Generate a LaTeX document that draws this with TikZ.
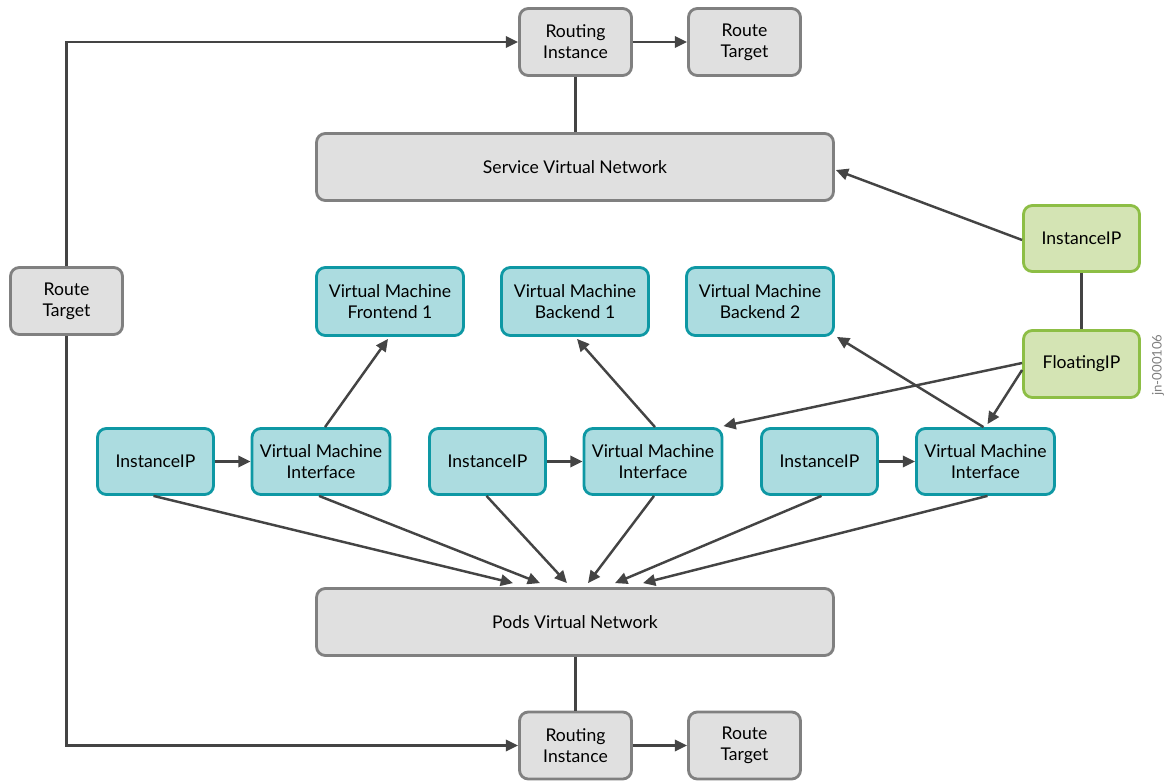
\documentclass[tikz,border=0pt]{standalone}
\usepackage{fontspec}
\setmainfont{Lato}
\usetikzlibrary{arrows.meta,calc}
\definecolor{grayF}{RGB}{224,224,224}
\definecolor{grayB}{RGB}{128,128,128}
\definecolor{tealF}{RGB}{172,220,224}
\definecolor{tealB}{RGB}{14,152,164}
\definecolor{greenF}{RGB}{212,228,180}
\definecolor{greenB}{RGB}{141,190,69}
\definecolor{lineC}{RGB}{68,68,68}
\begin{document}
\begin{tikzpicture}[x=0.02cm,y=-0.02cm,
  box/.style={rounded corners=5pt, line width=1.6pt, align=center, inner sep=0pt,
    font=\fontsize{10}{12}\selectfont},
  gbox/.style={box, draw=grayB, fill=grayF},
  tbox/.style={box, draw=tealB, fill=tealF},
  lbox/.style={box, draw=greenB, fill=greenF},
  small/.style={minimum width=2.24cm, minimum height=1.34cm},
  wide/.style={minimum width=10.34cm, minimum height=1.34cm},
  vm/.style={minimum width=2.94cm, minimum height=1.36cm},
  ip/.style={minimum width=2.32cm, minimum height=1.32cm},
  vmi/.style={minimum width=2.76cm, minimum height=1.32cm},
  ln/.style={draw=lineC, line width=1.4pt},
  arr/.style={ln, -{Triangle[length=7pt,width=6.5pt]}}]
\useasboundingbox (0,0) rectangle (1174,781);

% gray nodes
\node[gbox,small] (ri1) at (575.5,42) {Routing\\Instance};
\node[gbox,small] (rt1) at (744.5,42) {Route\\Target};
\node[gbox,wide] (svn) at (575,167) {Service Virtual Network};
\node[gbox,small] (rtl) at (66.5,301) {Route\\Target};
\node[gbox,wide] (pvn) at (575,622) {Pods Virtual Network};
\node[gbox,small] (ri2) at (575.5,745.5) {Routing\\Instance};
\node[gbox,small] (rt2) at (744.5,745.5) {Route\\Target};

% green nodes
\node[lbox,ip] (gip) at (1081.5,238.5) {InstanceIP};
\node[lbox,ip,minimum height=1.34cm] (fip) at (1081.5,364) {FloatingIP};

% VMs
\node[tbox,vm] (vmf1) at (390,301.5) {Virtual Machine\\Frontend 1};
\node[tbox,vm] (vmb1) at (575,301.5) {Virtual Machine\\Backend 1};
\node[tbox,vm] (vmb2) at (760,301.5) {Virtual Machine\\Backend 2};

% interfaces row
\node[tbox,ip] (ip1) at (155.5,461.5) {InstanceIP};
\node[tbox,vmi] (vmi1) at (321,461.5) {Virtual Machine\\Interface};
\node[tbox,ip] (ip2) at (487.5,461.5) {InstanceIP};
\node[tbox,vmi] (vmi2) at (653,461.5) {Virtual Machine\\Interface};
\node[tbox,ip] (ip3) at (819.5,461.5) {InstanceIP};
\node[tbox,vmi] (vmi3) at (985.5,461.5) {Virtual Machine\\Interface};

\node[rotate=90, text=grayB, font=\fontsize{7.5}{9}\selectfont, inner sep=0pt] (jn) at (1158,365) {jn-000106};

% route target loops
\coordinate (c1) at (66.5,42);
\coordinate (c2) at (66.5,745.5);
\draw[arr] (rtl.north) -- (c1) -- (ri1.west);
\draw[arr] (rtl.south) -- (c2) -- (ri2.west);
\draw[arr] (ri1.east) -- (rt1.west);
\draw[arr] (ri2.east) -- (rt2.west);
\draw[ln] (ri1.south) -- (svn.north -| ri1.south);
\draw[ln] (pvn.south -| ri2.north) -- (ri2.north);

% green links
\draw[arr] ($(gip.west)+(0,1.5)$) -- ($(svn.east)+(1,3)$);
\draw[ln] (gip.south) -- (fip.north);
\draw[arr] ($(fip.west)+(0,-1)$) -- ($(vmi2.north east)+(0,-1)$);
\draw[arr] ($(fip.west)+(0,6)$) -- ($(vmi3.north)+(2,-3)$);

% IP -> VMI
\draw[arr] (ip1.east) -- (vmi1.west);
\draw[arr] (ip2.east) -- (vmi2.west);
\draw[arr] (ip3.east) -- (vmi3.west);

% VMI -> VM
\draw[arr] ($(vmi1.north)+(4,0)$) -- ($(vmf1.south)+(-2,2)$);
\draw[arr] ($(vmi2.north)+(2,0)$) -- ($(vmb1.south)+(2,2)$);
\draw[arr] ($(vmi3.north)+(-2,0)$) -- ($(vmb2.south east)+(2,0)$);

% to Pods VN
\coordinate (p1) at ($(pvn.north)+(-62,-4)$);
\coordinate (p2) at ($(pvn.north)+(-35,-4)$);
\coordinate (p3) at ($(pvn.north)+(-8,-4)$);
\coordinate (p4) at ($(pvn.north)+(13,-4)$);
\coordinate (p5) at ($(pvn.north)+(40,-4)$);
\coordinate (p6) at ($(pvn.north)+(68,-4)$);
\draw[arr] ($(ip1.south)+(-2,0)$) -- (p1);
\draw[arr] ($(vmi1.south)+(-2,0)$) -- (p2);
\draw[arr] ($(ip2.south)+(-1,0)$) -- (p3);
\draw[arr] ($(vmi2.south)+(1,0)$) -- (p4);
\draw[arr] ($(ip3.south)+(2,0)$) -- (p5);
\draw[arr] ($(vmi3.south)+(2,0)$) -- (p6);
\end{tikzpicture}
\end{document}
